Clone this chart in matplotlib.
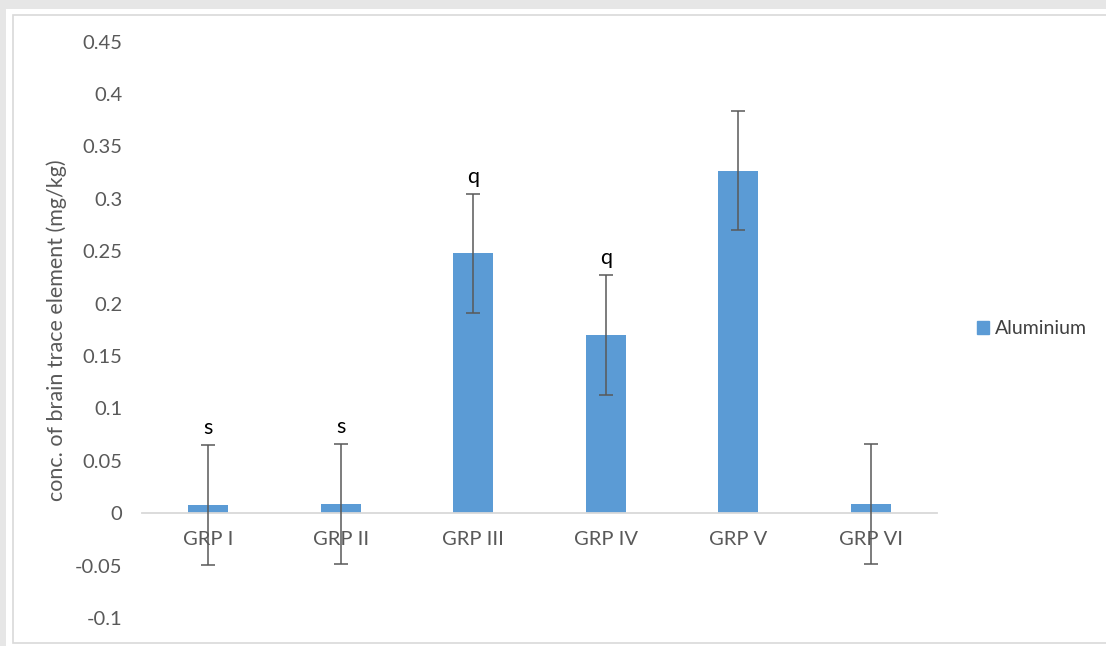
import matplotlib.pyplot as plt
from matplotlib.patches import Rectangle, Patch

groups = ['GRP I', 'GRP II', 'GRP III', 'GRP IV', 'GRP V', 'GRP VI']
aluminium = [0.008, 0.009, 0.248, 0.170, 0.327, 0.009]
errors = [0.057, 0.057, 0.057, 0.057, 0.057, 0.057]
marks = ['s', 's', 'q', 'q', '', '']

plt.rcParams['font.family'] = ['Lato', 'DejaVu Sans']

fig = plt.figure(figsize=(11.06, 6.46), dpi=100)
fig.patch.set_facecolor('#e6e6e6')
W, H = 1106.0, 646.0
# white panel with thin frame, like the screenshot
fig.patches.append(Rectangle((6 / W, 0), 1, 1 - 9 / H, transform=fig.transFigure,
                             facecolor='white', edgecolor='none', zorder=-2))
fig.patches.append(Rectangle((12.5 / W, 3 / H), 1, 1 - 18 / H, transform=fig.transFigure,
                             facecolor='white', edgecolor='#d9d9d9', lw=1.2, zorder=-1))

ax = fig.add_axes([142 / W, 1 - 618 / H, (937 - 142) / W, (618 - 41.7) / H])
ax.set_facecolor('none')

x = range(len(groups))
ax.bar(x, aluminium, width=0.30, color='#5b9bd5', zorder=2)
ax.errorbar(x, aluminium, yerr=errors, fmt='none', ecolor='#595959',
            elinewidth=1.1, capsize=5, capthick=1.1, zorder=3)

for i, m in enumerate(marks):
    if m:
        ax.annotate(m, (i, aluminium[i] + errors[i]), xytext=(0, 5),
                    textcoords='offset points', ha='center', va='bottom',
                    fontsize=15.5, color='black')

ax.set_xlim(-0.5, 5.5)
ax.set_ylim(-0.1, 0.45)
ax.set_yticks([-0.1, -0.05, 0, 0.05, 0.1, 0.15, 0.2, 0.25, 0.3, 0.35, 0.4, 0.45])
ax.set_yticklabels(['-0.1', '-0.05', '0', '0.05', '0.1', '0.15', '0.2', '0.25',
                    '0.3', '0.35', '0.4', '0.45'])
ax.set_xticks(list(x))
ax.set_xticklabels(groups)

for s in ['top', 'right', 'left']:
    ax.spines[s].set_visible(False)
ax.spines['bottom'].set_position(('data', 0))
ax.spines['bottom'].set_color('#d9d9d9')
ax.spines['bottom'].set_linewidth(1.3)
ax.tick_params(axis='both', length=0, labelsize=14.5, colors='#595959')
ax.tick_params(axis='y', pad=14)
ax.tick_params(axis='x', pad=13)

ax.set_ylabel('conc. of brain trace element (mg/kg)', fontsize=15.5, color='#595959',
              labelpad=6)

fig.legend(handles=[Patch(color='#5b9bd5', label='Aluminium')], loc='center left',
           bbox_to_anchor=(967 / W, 1 - 329 / H), frameon=False, fontsize=14,
           handlelength=0.65, handleheight=0.65, handletextpad=0.3, borderpad=0,
           labelcolor='#404040')

fig.savefig('out.png', dpi=100, facecolor=fig.get_facecolor())
